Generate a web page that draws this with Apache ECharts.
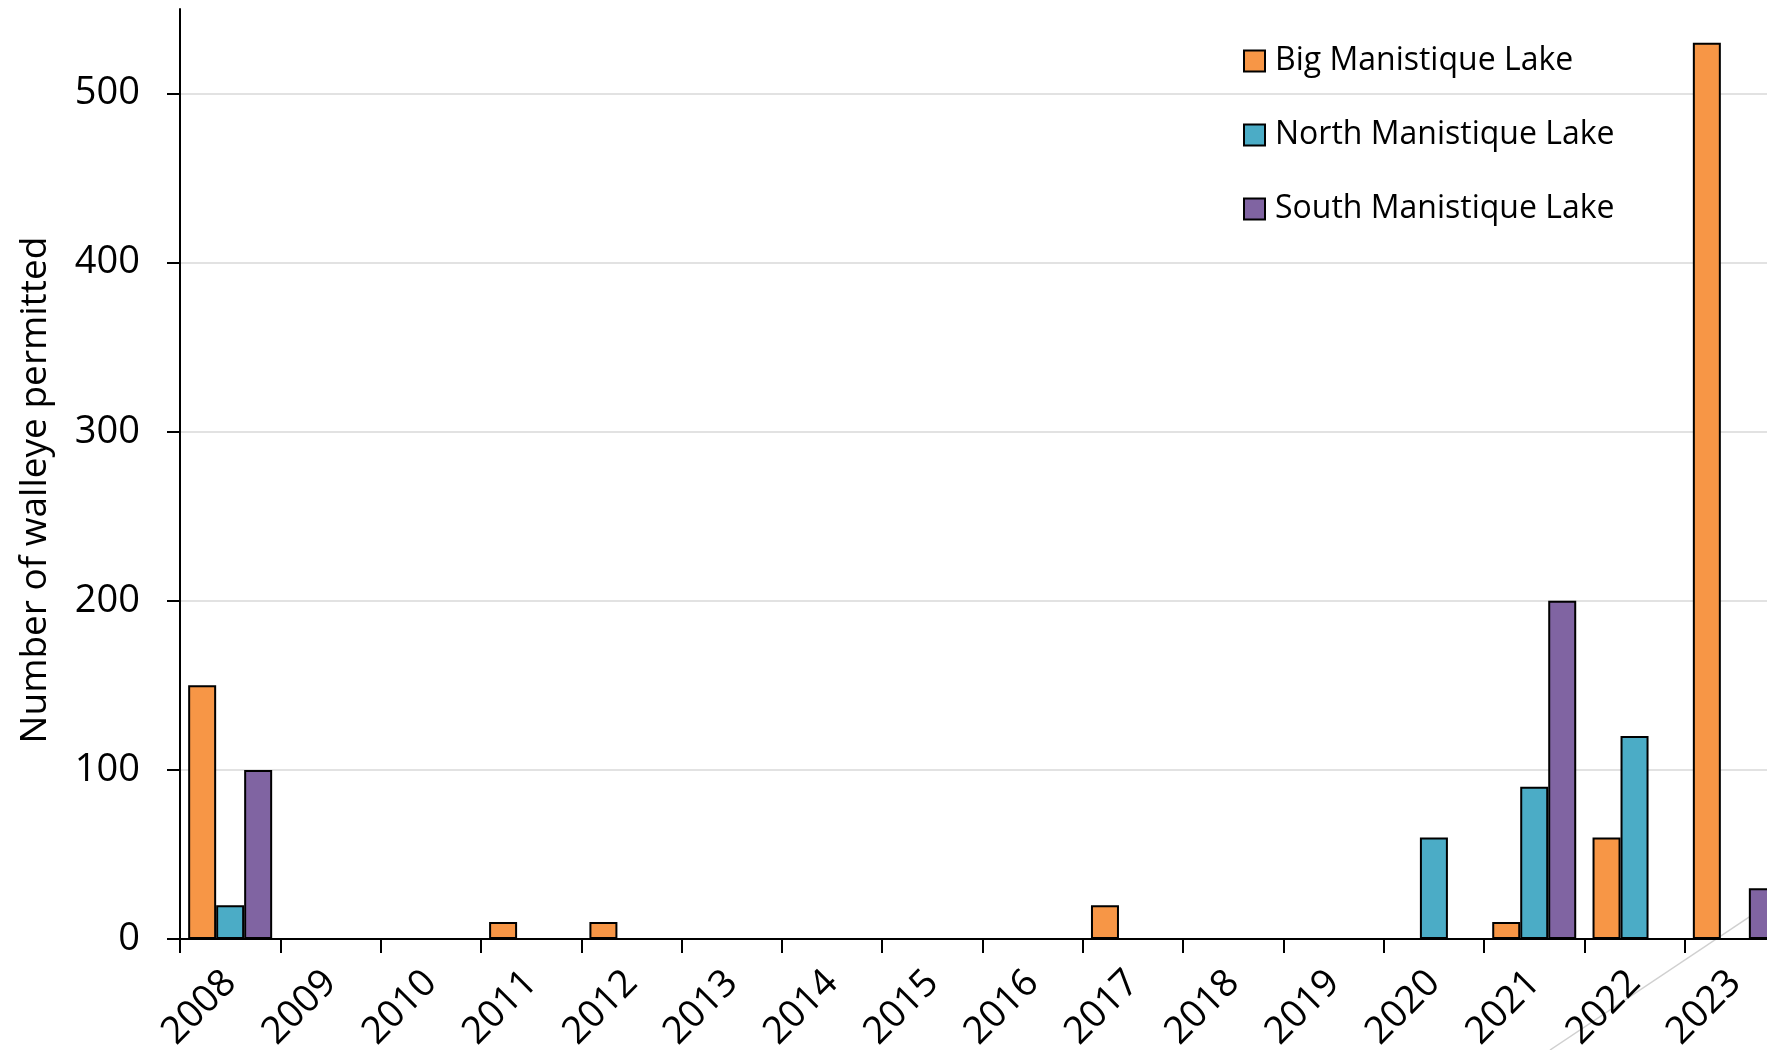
<!DOCTYPE html>
<html>
<head>
<meta charset="utf-8">
<title>Walleye permitted</title>
<script src="https://cdn.jsdelivr.net/npm/echarts@6/dist/echarts.min.js"></script>
<style>
  html, body { margin: 0; padding: 0; background: #fff; }
  #chart { width: 1767px; height: 1050px; }
</style>
</head>
<body>
<div id="chart"></div>
<script>
// years on the x axis
const years = ["2008", "2009", "2010", "2011", "2012", "2013", "2014", "2015",
  "2016", "2017", "2018", "2019", "2020", "2021", "2022", "2023"];
// walleye permitted per lake
const bigLake = [150, 0, 0, 10, 10, 0, 0, 0, 0, 20, 0, 0, 0, 10, 60, 530];
const northLake = [20, 0, 0, 0, 0, 0, 0, 0, 0, 0, 0, 0, 60, 90, 120, 0];
const southLake = [100, 0, 0, 0, 0, 0, 0, 0, 0, 0, 0, 0, 0, 200, 0, 30];
const yTicks = [0, 100, 200, 300, 400, 500];

const font = "'Open Sans', sans-serif";

const chart = echarts.init(document.getElementById("chart"));

function barSeries(name, data, color) {
  return {
    name: name,
    type: "bar",
    data: data,
    barWidth: 28,
    barGap: "0%",
    itemStyle: {
      color: color,
      borderColor: "#000",
      borderWidth: 2,
    },
  };
}

const options = {
  animation: false,
  backgroundColor: "#fff",
  grid: {
    left: 180,
    top: 9,
    bottom: 111,
    right: -18,
    containLabel: false,
    outerBoundsMode: "none",
  },
  legend: {
    orient: "vertical",
    left: 1238,
    top: 40,
    itemWidth: 21,
    itemHeight: 21,
    itemGap: 42,
    icon: "rect",
    textStyle: {
      fontFamily: font,
      fontSize: 32,
      color: "#000",
      padding: [0, 0, 0, 5],
    },
    itemStyle: { borderColor: "#000", borderWidth: 2 },
    data: ["Big Manistique Lake", "North Manistique Lake", "South Manistique Lake"],
  },
  xAxis: {
    type: "category",
    data: years,
    axisLine: { lineStyle: { color: "#000", width: 2 } },
    axisTick: { show: true, length: 14, interval: 0, lineStyle: { color: "#000", width: 2 } },
    axisLabel: {
      interval: 0,
      rotate: 45,
      margin: 38,
      fontFamily: font,
      fontSize: 38,
      color: "#000",
    },
    splitLine: { show: false },
  },
  yAxis: {
    type: "value",
    min: 0,
    max: 550,
    interval: 100,
    name: "Number of walleye permitted",
    nameLocation: "middle",
    nameGap: 126,
    nameTextStyle: { fontFamily: font, fontSize: 37, color: "#000", padding: [0, 32, 0, 0] },
    axisLine: { show: true, lineStyle: { color: "#000", width: 2 } },
    axisTick: { show: true, length: 13, customValues: yTicks, lineStyle: { color: "#000", width: 2 } },
    axisLabel: {
      customValues: yTicks,
      margin: 40,
      fontFamily: font,
      fontSize: 38,
      color: "#000",
    },
    splitLine: { show: true, lineStyle: { color: "#d9d9d9", width: 1.5 } },
  },
  graphic: [
    {
      type: "line",
      z: 0,
      shape: { x1: 1550, y1: 1050, x2: 1767, y2: 905 },
      style: { stroke: "#d0d0d0", lineWidth: 1.5 },
    },
  ],
  series: [
    barSeries("Big Manistique Lake", bigLake, "#F79646"),
    barSeries("North Manistique Lake", northLake, "#4BACC6"),
    barSeries("South Manistique Lake", southLake, "#8064A2"),
  ],
};

chart.setOption(options);
</script>
</body>
</html>
